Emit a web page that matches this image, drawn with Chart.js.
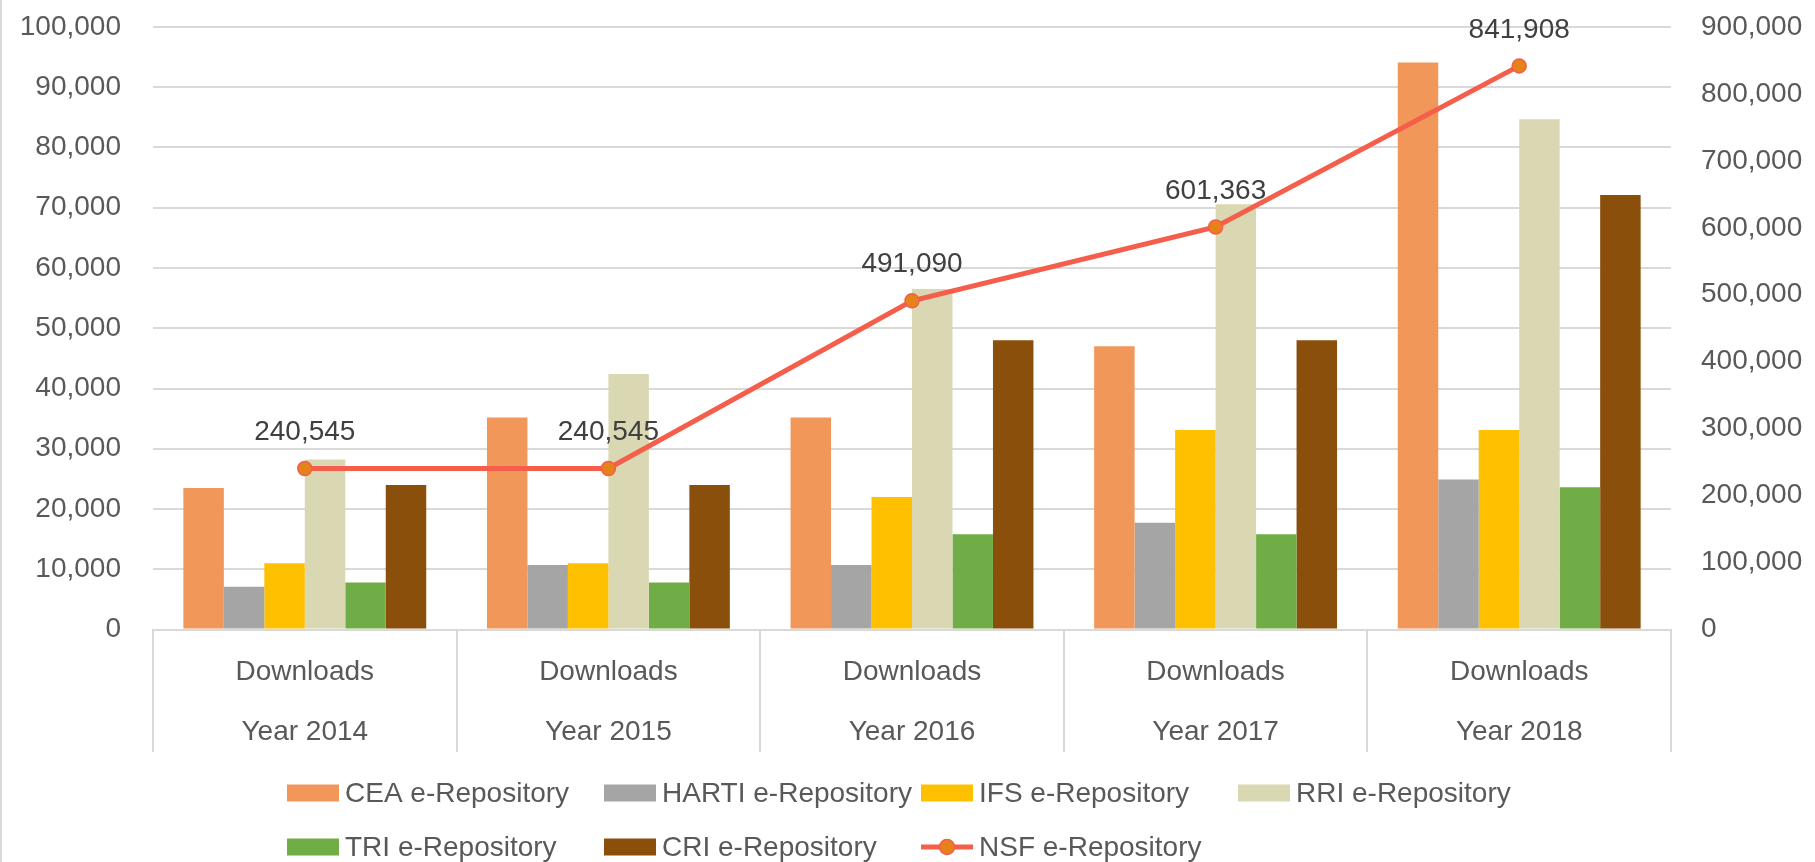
<!DOCTYPE html>
<html lang="en">
<head><meta charset="UTF-8">
<script src="https://cdn.jsdelivr.net/npm/chart.js@4.4.1/dist/chart.umd.min.js"></script>
<style>
*{margin:0;padding:0;box-sizing:border-box}
body{background:#fff}
#wrap{width:1815px;height:862px;position:relative}
</style>
</head><body>
<div id="wrap"><canvas id="c"></canvas></div>
<script>
// ── data ──
const categories=['Year 2014','Year 2015','Year 2016','Year 2017','Year 2018'];
const metric='Downloads';
const ceaVals=[23500,35200,35200,47000,94100];
const hartiVals=[7100,10700,10700,17700,24900];
const ifsVals=[11000,11000,22000,33100,33100];
const rriVals=[28200,42400,56500,70600,84700];
const triVals=[7800,7800,15800,15800,23600];
const criVals=[24000,24000,48000,48000,72100];
const nsfVals=[240545,240545,491090,601363,841908];
const leftTicks={min:0,max:100000,step:10000};
const rightTicks={min:0,max:900000,step:100000};

const FONT="'Liberation Sans', Arial, sans-serif";
const TXT='#595959', GRID='#d9d9d9';
const LINE='#F45E4A', MARK='#E6821C';
const fmt=v=>Number(v).toLocaleString('en-US');

const bar=(label,data,color)=>({type:'bar',label,data,backgroundColor:color,borderWidth:0,yAxisID:'y',order:1,categoryPercentage:0.8,barPercentage:1.0});

// y axes: fixed width, no extra top/bottom padding from tick padding
const fixY=w=>s=>{s.width=w;s.paddingTop=0;s.paddingBottom=0;};

// left frame edge
const frame={id:'frame',beforeDraw(ch){const c=ch.ctx;c.save();c.strokeStyle=GRID;c.lineWidth=2;c.beginPath();c.moveTo(1,0);c.lineTo(1,ch.height);c.stroke();c.restore();}};

// values above the NSF points
const pointLabels={id:'pointLabels',afterDatasetsDraw(ch){
  const i=ch.data.datasets.findIndex(d=>d.type==='line');
  const meta=ch.getDatasetMeta(i),c=ch.ctx;
  c.save();c.font='28px '+FONT;c.fillStyle='#404040';c.textAlign='center';c.textBaseline='middle';
  meta.data.forEach((p,k)=>c.fillText(fmt(ch.data.datasets[i].data[k]),p.x,p.y-36));
  c.restore();
}};

// Excel-style legend laid out on a fixed column grid
const legendGrid={id:'legendGrid',afterDraw(ch){
  const c=ch.ctx,ds=ch.data.datasets;
  const x0=287,colW=317,rows=[793,847],perRow=4,bw=52,bh=17;
  c.save();c.font='28px '+FONT;c.textBaseline='middle';c.textAlign='left';
  ds.forEach((d,i)=>{
    const x=x0+(i%perRow)*colW,y=rows[Math.floor(i/perRow)];
    if(d.type==='line'){
      c.strokeStyle=d.borderColor;c.lineWidth=5;c.beginPath();c.moveTo(x,y);c.lineTo(x+bw,y);c.stroke();
      c.fillStyle=d.pointBackgroundColor;c.strokeStyle=d.pointBorderColor;c.lineWidth=1.5;
      c.beginPath();c.arc(x+bw/2,y,7.5,0,Math.PI*2);c.fill();c.stroke();
    }else{
      c.fillStyle=d.backgroundColor;c.fillRect(x,y-bh/2,bw,bh);
    }
    c.fillStyle=TXT;c.fillText(d.label,x+bw+6,y+1);
  });
  c.restore();
}};

new Chart(document.getElementById('c'),{
  data:{
    labels:categories.map(y=>[metric,y]),
    datasets:[
      bar('CEA e-Repository',ceaVals,'#F1975A'),
      bar('HARTI e-Repository',hartiVals,'#A5A5A5'),
      bar('IFS e-Repository',ifsVals,'#FFC000'),
      bar('RRI e-Repository',rriVals,'#DAD8B2'),
      bar('TRI e-Repository',triVals,'#70AD47'),
      bar('CRI e-Repository',criVals,'#8B4F0C'),
      {type:'line',label:'NSF e-Repository',data:nsfVals,yAxisID:'y2',order:0,
       borderColor:LINE,borderWidth:5,tension:0,
       pointRadius:7,pointHoverRadius:7,pointBackgroundColor:MARK,pointBorderColor:LINE,pointBorderWidth:1.5}
    ]
  },
  options:{
    responsive:true,maintainAspectRatio:false,animation:false,
    layout:{padding:{top:27,left:0,right:0,bottom:0}},
    plugins:{legend:{display:false},tooltip:{enabled:false}},
    scales:{
      x:{
        offset:true,
        grid:{offset:true,drawOnChartArea:false,drawTicks:true,tickLength:122.5,color:GRID,lineWidth:2},
        border:{display:true,color:GRID,width:2},
        ticks:{color:TXT,font:{family:FONT,size:28,lineHeight:60/28},padding:-110,maxRotation:0,autoSkip:false},
        afterFit:s=>{s.height=232.5;}
      },
      y:{
        position:'left',min:leftTicks.min,max:leftTicks.max,
        grid:{color:GRID,lineWidth:2,drawTicks:false},
        border:{display:false},
        ticks:{stepSize:leftTicks.step,color:TXT,font:{family:FONT,size:28},padding:32,callback:fmt},
        afterFit:fixY(153)
      },
      y2:{
        position:'right',min:rightTicks.min,max:rightTicks.max,
        grid:{drawOnChartArea:false,drawTicks:false},
        border:{display:false},
        ticks:{stepSize:rightTicks.step,color:TXT,font:{family:FONT,size:28},padding:30,callback:fmt},
        afterFit:fixY(144)
      }
    }
  },
  plugins:[frame,pointLabels,legendGrid]
});
</script>
</body></html>
